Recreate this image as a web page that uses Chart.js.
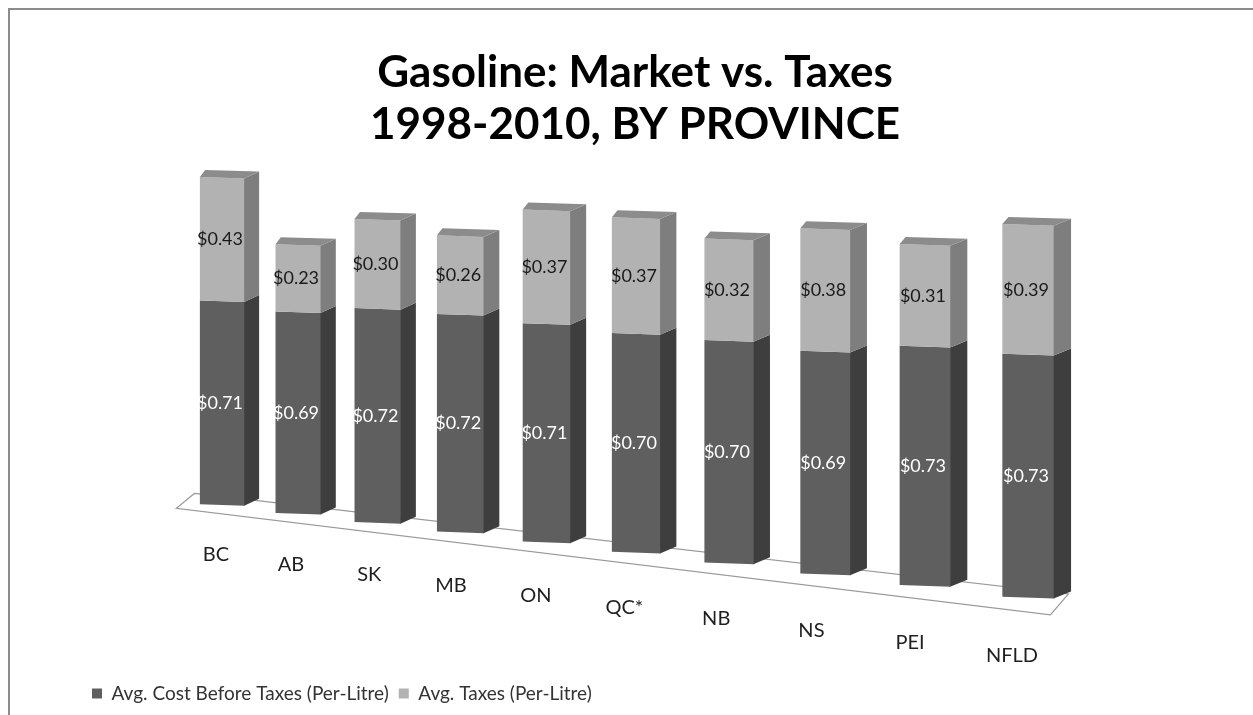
<!DOCTYPE html>
<html>
<head>
<meta charset="utf-8">
<title>Gasoline: Market vs. Taxes</title>
<script src="https://cdn.jsdelivr.net/npm/chart.js@4.4.1/dist/chart.umd.min.js"></script>
<style>
  html, body { margin: 0; padding: 0; background: #fff; }
  #wrap { width: 1253px; height: 715px; }
</style>
</head>
<body>
<div id="wrap"><canvas id="gasChart" width="1253" height="715"></canvas></div>
<script>
var provinces = ['BC', 'AB', 'SK', 'MB', 'ON', 'QC*', 'NB', 'NS', 'PEI', 'NFLD']
var cost_before_taxes = [0.71, 0.69, 0.72, 0.72, 0.71, 0.70, 0.70, 0.69, 0.73, 0.73]
var taxes = [0.43, 0.23, 0.30, 0.26, 0.37, 0.37, 0.32, 0.38, 0.31, 0.39]

// face colours per series: front, side, top
var shades = [
  { front: '#5f5f5f', side: '#3e3e3e', top: '#6e6e6e', text: '#ffffff' },
  { front: '#b2b2b2', side: '#7e7e7e', top: '#8c8c8c', text: '#1a1a1a' }
]

// the row of bars recedes to the left, so spacing, size and baseline change along it
function view(u) {
  var cx = 222 + 669 * u + 137 * u * u
  return { cx: cx, g: 1 + 0.16 * u, base: 505 + 0.115 * (cx - 222) }
}

function poly(ctx, pts, fill) {
  ctx.beginPath()
  ctx.moveTo(pts[0][0], pts[0][1])
  for (var k = 1; k < pts.length; k++) ctx.lineTo(pts[k][0], pts[k][1])
  ctx.closePath()
  ctx.fillStyle = fill
  ctx.fill()
}

var bars3d = {
  id: 'bars3d',
  beforeDraw: function (chart) {
    var ctx = chart.ctx
    ctx.save()
    ctx.fillStyle = '#fff'
    ctx.fillRect(0, 0, chart.width, chart.height)
    ctx.strokeStyle = '#8c8c8c'
    ctx.lineWidth = 2
    ctx.beginPath()
    ctx.moveTo(9, chart.height)
    ctx.lineTo(9, 9)
    ctx.lineTo(chart.width, 9)
    ctx.stroke()
    ctx.restore()
  },
  beforeDatasetsDraw: function (chart) {
    var ctx = chart.ctx
    var xs = chart.scales.x, ys = chart.scales.y
    var n = chart.data.labels.length
    var first = xs.getPixelForValue(0), last = xs.getPixelForValue(n - 1)
    var zero = ys.getPixelForValue(0)
    var perUnit = 287 / (zero - ys.getPixelForValue(1))

    ctx.save()

    // floor under the bars
    var fl = view(-0.06), fr = view(1.03)
    ctx.beginPath()
    ctx.moveTo(fl.cx + 12, fl.base - 7)
    ctx.lineTo(fr.cx + 12, fr.base - 7)
    ctx.lineTo(fr.cx - 6, fr.base + 12 * fr.g)
    ctx.lineTo(fl.cx - 6, fl.base + 8 * fl.g)
    ctx.closePath()
    ctx.fillStyle = '#ffffff'
    ctx.fill()
    ctx.strokeStyle = '#9a9a9a'
    ctx.lineWidth = 1.2
    ctx.stroke()

    for (var i = 0; i < n; i++) {
      var ref = chart.getDatasetMeta(0).data[i]
      var u = (ref.x - first) / (last - first)
      var v = view(u)
      var w = ref.width * v.g
      var L = v.cx - w / 2, R = v.cx + w / 2
      var tilt = 0.035 * w / 2
      var dx = 15 * v.g, dy = -7

      for (var d = 0; d < chart.data.datasets.length; d++) {
        var el = chart.getDatasetMeta(d).data[i]
        var s = shades[d]
        var yt = v.base - (zero - el.y) * perUnit * v.g
        var yb = v.base - (zero - el.base) * perUnit * v.g

        poly(ctx, [[L, yt - tilt], [R + 0.5, yt + tilt], [R + 0.5, yb + tilt], [L, yb - tilt]], s.front)
        poly(ctx, [[R, yt + tilt], [R + dx, yt + tilt + dy], [R + dx, yb + tilt + dy], [R, yb + tilt]], s.side)
        if (d === chart.data.datasets.length - 1) {
          poly(ctx, [[L, yt - tilt], [R, yt + tilt], [R + dx, yt + tilt + dy], [L + dx * 0.35, yt - tilt + dy]], s.top)
        }

        // value label on the front face
        var val = chart.data.datasets[d].data[i]
        ctx.fillStyle = s.text
        ctx.font = '18px Lato'
        ctx.textAlign = 'center'
        ctx.textBaseline = 'middle'
        ctx.fillText('$' + val.toFixed(2), v.cx - 2, (yt + yb) / 2)
      }

      // province name below the floor
      ctx.fillStyle = '#1f1f1f'
      ctx.font = '20px Lato'
      ctx.textAlign = 'center'
      ctx.textBaseline = 'middle'
      ctx.fillText(chart.data.labels[i], v.cx - 6 - 10 * u, v.base + 50 * v.g)
    }

    ctx.restore()
    return false
  }
}

var ctx = document.getElementById('gasChart').getContext('2d')
var gasChart = new Chart(ctx, {
  type: 'bar',
  data: {
    labels: provinces,
    datasets: [{
      label: 'Avg. Cost Before Taxes (Per-Litre)',
      data: cost_before_taxes,
      backgroundColor: shades[0].front,
      borderWidth: 0
    }, {
      label: 'Avg. Taxes (Per-Litre)',
      data: taxes,
      backgroundColor: shades[1].front,
      borderWidth: 0
    }]
  },
  options: {
    responsive: false,
    animation: false,
    layout: {
      padding: { left: 82, right: 65, top: 20, bottom: 2 }
    },
    datasets: {
      bar: { categoryPercentage: 1, barPercentage: 0.4 }
    },
    plugins: {
      title: {
        display: true,
        text: ['Gasoline: Market vs. Taxes', '1998-2010, BY PROVINCE'],
        color: '#000',
        font: { family: 'Lato', size: 44, weight: 'bold', lineHeight: 1.2 },
        padding: { top: 26, bottom: 10 }
      },
      legend: {
        position: 'bottom',
        align: 'start',
        labels: {
          boxWidth: 10,
          boxHeight: 10,
          padding: 10,
          color: '#333',
          font: { family: 'Lato', size: 19 }
        }
      },
      tooltip: { enabled: false }
    },
    scales: {
      x: { stacked: true, display: false },
      y: { stacked: true, display: false, min: 0, max: 1.3 }
    }
  },
  plugins: [bars3d]
})
</script>
</body>
</html>
